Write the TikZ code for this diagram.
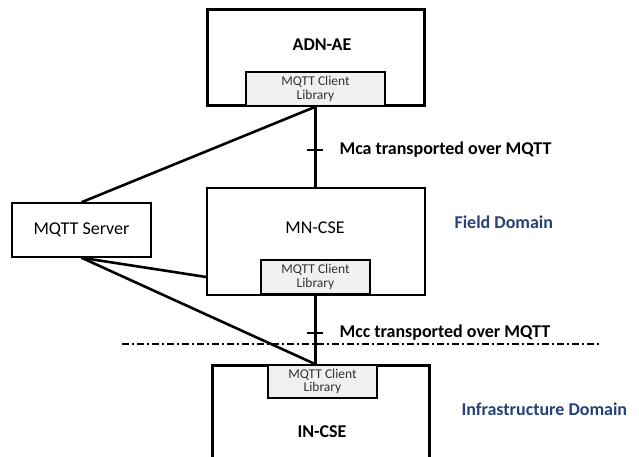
\documentclass[tikz,border=0pt]{standalone}
\usepackage{fontspec}
\setmainfont{Carlito}
\usepackage{xcolor}
\usetikzlibrary{positioning}
\definecolor{domainblue}{RGB}{40,64,120}
\definecolor{libgray}{RGB}{240,240,240}

\begin{document}
\begin{tikzpicture}[x=1pt,y=-1pt,
  entitybox/.style={draw, line width=3pt, inner sep=0pt},
  thinbox/.style={draw, line width=1.5pt, inner sep=0pt},
  libbox/.style={draw, line width=1.5pt, fill=libgray, inner sep=0pt, align=center,
    text=black!80, font=\fontsize{13.5}{13.5}\selectfont},
  bigtext/.style={font=\fontsize{18}{20}\selectfont},
  boldtext/.style={font=\fontsize{18}{20}\selectfont\bfseries},
  domaintext/.style={font=\fontsize{18}{20}\selectfont\bfseries, text=domainblue},
  link/.style={line width=2.6pt}
]

\clip (0,0) rectangle (639,457);
\fill[white] (0,0) rectangle (639,457);

% ADN-AE
\node[entitybox, minimum width=217pt, minimum height=96pt] (adn) at (315.5,58) {};
\node[boldtext] (adnlabel) at (322,45) {ADN-AE};
\node[libbox, minimum width=139pt, minimum height=34pt] (adnlib) at (315.5,89) {MQTT Client\\Library};

% MN-CSE
\node[thinbox, minimum width=218pt, minimum height=107pt] (mn) at (316,241.5) {};
\node[bigtext] (mnlabel) at (315,228) {MN-CSE};
\node[libbox, minimum width=109pt, minimum height=34pt] (mnlib) at (315.5,277) {MQTT Client\\Library};

% IN-CSE (runs off the bottom)
\node[entitybox, minimum width=217pt, minimum height=130pt] (in) at (320.5,430) {};
\node[boldtext] (inlabel) at (322,432) {IN-CSE};
\node[libbox, minimum width=109pt, minimum height=33pt] (inlib) at (322.5,381.5) {MQTT Client\\Library};

% server
\node[thinbox, bigtext, minimum width=139pt, minimum height=54pt] (server) at (81.5,230) {MQTT Server};

% reference points
\coordinate (mca) at (315.5,150);
\coordinate (mcc) at (315.5,333);

\draw[link] (adnlib.south) -- (adnlib.south |- mn.north);
\draw[link] (mnlib.south) -- (inlib.north -| mnlib.south);
\draw[link] ([xshift=-9pt]mca) -- ([xshift=7pt]mca);
\draw[link] ([xshift=-9pt]mcc) -- ([xshift=7pt]mcc);

\draw[link] (server.north) -- (adnlib.south);
\draw[link] (server.south) -- (mn.west |- mnlib);
\draw[link] (server.south) -- (inlib.north -| mnlib.south);

\node[boldtext, anchor=west] (mcalabel) at (336,150) {Mca transported over MQTT};
\node[boldtext, anchor=west] (mcclabel) at (336,333) {Mcc transported over MQTT};

% domain border
\coordinate (lineL) at (122,344);
\coordinate (lineR) at (600,344);
\draw[line width=1.5pt, dash pattern=on 7pt off 3pt on 2pt off 3pt] (lineL) -- (lineR);

\node[domaintext, anchor=west] (field) at (451,222) {Field Domain};
\node[domaintext, anchor=west] (infra) at (458,409) {Infrastructure Domain};

\end{tikzpicture}
\end{document}
